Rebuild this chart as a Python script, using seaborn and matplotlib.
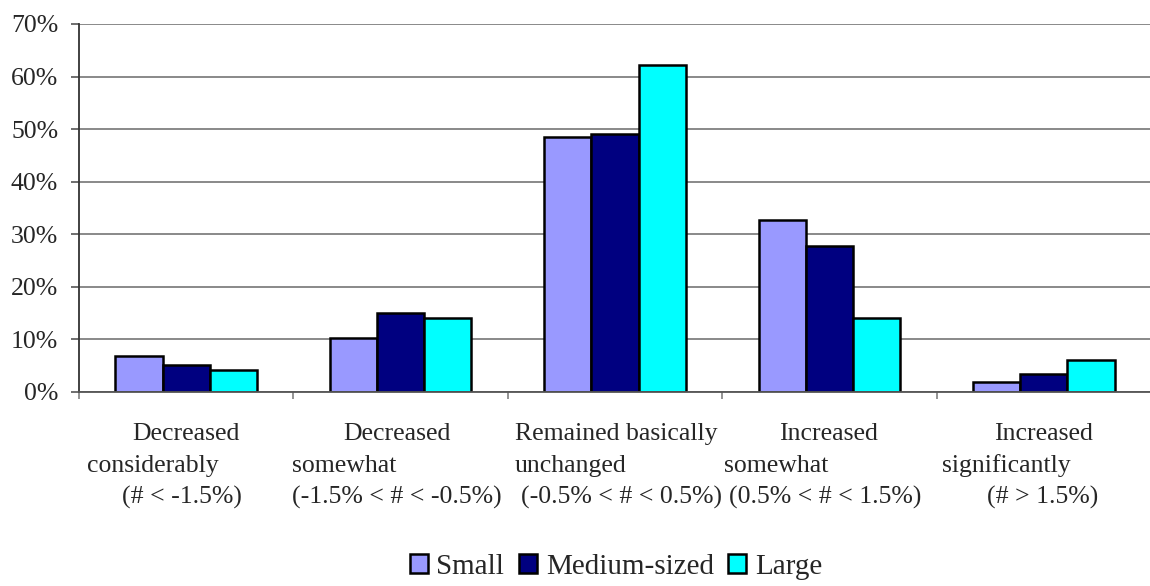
import matplotlib
matplotlib.use("Agg")
import matplotlib.pyplot as plt
import matplotlib.transforms as mtransforms
import pandas as pd
import seaborn as sns

# values (percent of respondents)
categories = [
    "Decreased considerably",
    "Decreased somewhat",
    "Remained basically unchanged",
    "Increased somewhat",
    "Increased significantly",
]
sizes = ["Small", "Medium-sized", "Large"]
small = [6.8, 10.2, 48.4, 32.7, 1.9]
medium = [5.0, 14.9, 49.1, 27.8, 3.4]
large = [4.1, 14.0, 62.2, 14.1, 6.0]
yticks = [0, 10, 20, 30, 40, 50, 60, 70]
label_lines = [
    ["Decreased", "considerably", "(# < -1.5%)"],
    ["Decreased", "somewhat", "(-1.5% < # < -0.5%)"],
    ["Remained basically", "unchanged", "(-0.5% < # < 0.5%)"],
    ["Increased", "somewhat", "(0.5% < # < 1.5%)"],
    ["Increased", "significantly", "(# > 1.5%)"],
]

colors = ["#9999FF", "#000080", "#00FFFF"]

# how each label line sits under its category, Excel-style wrapping
# (ha, offset in px from centre for "center" / from left edge for "left")
line_layout = [
    [("center", 0), ("left", 8), ("center", -4)],
    [("center", -4), ("left", -1), ("left", -1)],
    [("center", 1), ("left", 7), ("left", 13)],
    [("center", -1), ("left", 2), ("left", 7)],
    [("center", 0), ("left", 5), ("center", -1)],
]

df = pd.DataFrame({
    "category": categories * 3,
    "size": [s for s in sizes for _ in categories],
    "value": small + medium + large,
})

sns.set_style("white")
plt.rcParams["font.family"] = ["Liberation Serif", "DejaVu Serif"]

W, H = 1150, 586
fig = plt.figure(figsize=(W / 100, H / 100), dpi=100)
ax_left, ax_bottom, ax_top = 79, 391.7, 24
cat_px = 214.4
ax = fig.add_axes([ax_left / W, 1 - ax_bottom / H, 5 * cat_px / W, (ax_bottom - ax_top) / H])

sns.barplot(
    data=df, x="category", y="value", hue="size",
    order=categories, hue_order=sizes, palette=colors, saturation=1,
    width=0.66, edgecolor="black", linewidth=1.8, ax=ax,
)

handles, labels = ax.get_legend_handles_labels()
ax.get_legend().remove()

ax.set_xlim(-0.5, 4.5)
ax.set_ylim(0, 70)
ax.set_yticks(yticks)
ax.set_yticklabels([f"{v}%" for v in yticks], fontsize=18.5)
ax.set_xticks([i - 0.5 for i in range(len(categories) + 1)])
ax.set_xticklabels([])
ax.set_xlabel("")
ax.set_ylabel("")

ax.yaxis.grid(True, color="#808080", linewidth=1.3)
ax.set_axisbelow(True)
for side in ["top", "right"]:
    ax.spines[side].set_visible(False)
ax.spines["left"].set_color("#333333")
ax.spines["left"].set_linewidth(1.3)
ax.spines["bottom"].set_color("#555555")
ax.spines["bottom"].set_linewidth(1.3)
ax.tick_params(axis="y", direction="out", length=6, width=1.2, color="#555555", pad=9, left=True)
ax.tick_params(axis="x", direction="out", length=5, width=1.2, color="#808080", bottom=True)

# category labels, one text per wrapped line
axes_h = ax_bottom - ax_top
trans = mtransforms.blended_transform_factory(ax.transData, ax.transAxes)
baselines = [48, 80, 112]
for i, lines in enumerate(label_lines):
    for j, text in enumerate(lines):
        ha, dx = line_layout[i][j]
        if ha == "center":
            x = i + dx / cat_px
        else:
            x = i - 0.5 + dx / cat_px
        ax.text(x, -baselines[j] / axes_h, text, transform=trans,
                ha=ha, va="baseline", fontsize=18.5)

fig.legend(
    handles, labels, loc="center", bbox_to_anchor=(616 / W, 1 - 567 / H),
    ncol=3, frameon=False, fontsize=21, handlelength=0.62, handleheight=0.62,
    handletextpad=0.3, columnspacing=0.5, borderaxespad=0,
)

fig.savefig("out.png", dpi=100)
plt.close(fig)
